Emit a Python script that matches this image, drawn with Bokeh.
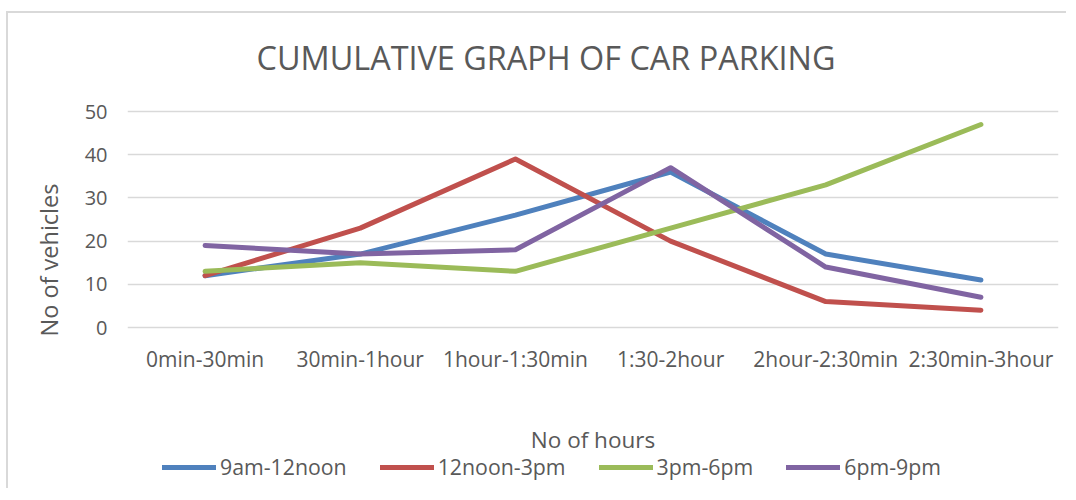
from bokeh.plotting import figure
from bokeh.models import FactorRange, Range1d, Legend, LegendItem, FixedTicker, Title, Label
from bokeh.embed import file_html
from bokeh.resources import INLINE

categories = ["0min-30min", "30min-1hour", "1hour-1:30min", "1:30-2hour", "2hour-2:30min", "2:30min-3hour"]
series_names = ["9am-12noon", "12noon-3pm", "3pm-6pm", "6pm-9pm"]
s_9am_12noon = [12, 17, 26, 36, 17, 11]
s_12noon_3pm = [12, 23, 39, 20, 6, 4]
s_3pm_6pm = [13, 15, 13, 23, 33, 47]
s_6pm_9pm = [19, 17, 18, 37, 14, 7]
y_ticks = [0, 10, 20, 30, 40, 50]

colors = ["#4F81BD", "#C0504D", "#9BBB59", "#8064A2"]
FONT = "Open Sans"
TXT = "#595959"

# frame covers the whole chart area: value 0..50 spans 216px, the space above
# holds the title, the space below holds the category axis, its title and the legend
p = figure(x_range=FactorRange(*categories, range_padding=0), y_range=Range1d(-37.73, 72.685),
           width=1060, height=477, output_backend="svg", toolbar_location=None,
           min_border_left=119, min_border_right=10, min_border_top=0, min_border_bottom=0,
           margin=(11, 0, 0, 6),
           styles={"border-left": "2px solid #d9d9d9", "border-top": "2px solid #d9d9d9"})
p.outline_line_color = None

title = Label(x=2.697, y=62.73, text="CUMULATIVE GRAPH OF CAR PARKING", text_font=FONT,
              text_font_size="32.4px", text_color=TXT, text_align="center", text_baseline="middle")
p.add_layout(title)

p.yaxis.ticker = FixedTicker(ticks=y_ticks)
p.yaxis.axis_line_color = None
p.yaxis.major_tick_line_color = None
p.yaxis.minor_tick_line_color = None
p.yaxis.major_label_text_font = FONT
p.yaxis.major_label_text_font_size = "20px"
p.yaxis.major_label_text_color = TXT
p.yaxis.major_label_standoff = 14

ytitle = Title(text="No of vehicles", text_font=FONT, text_font_size="23.5px",
               text_font_style="normal", text_color=TXT, align="left", offset=154, standoff=34)
p.add_layout(ytitle, "left")

p.xaxis.fixed_location = 0
p.xaxis.axis_line_color = None
p.xaxis.major_tick_line_color = None
p.xaxis.minor_tick_line_color = None
p.xaxis.major_label_text_font = FONT
p.xaxis.major_label_text_font_size = "21px"
p.xaxis.major_label_text_color = TXT
p.xaxis.major_label_standoff = 11
p.xaxis.axis_label = "No of hours"
p.xaxis.axis_label_text_font = FONT
p.xaxis.axis_label_text_font_size = "22.5px"
p.xaxis.axis_label_text_font_style = "normal"
p.xaxis.axis_label_text_color = TXT
p.xaxis.axis_label_standoff = 48

p.xgrid.grid_line_color = None
p.ygrid.grid_line_color = "#d9d9d9"
p.ygrid.grid_line_width = 1.5

all_series = [s_9am_12noon, s_12noon_3pm, s_3pm_6pm, s_6pm_9pm]
items = []
for name, vals, c in zip(series_names, all_series, colors):
    r = p.line(categories, vals, line_color=c, line_width=5, line_cap="round", line_join="round")
    items.append(LegendItem(label=name, renderers=[r]))

legend = Legend(items=items, orientation="horizontal", location=(35, 9),
                label_text_font=FONT, label_text_font_size="21.3px", label_text_color=TXT,
                glyph_width=54, glyph_height=20, label_standoff=4, spacing=33,
                padding=0, margin=0, border_line_color=None, background_fill_alpha=0)
p.add_layout(legend, "center")

open("out.html", "w").write(file_html(p, INLINE))
